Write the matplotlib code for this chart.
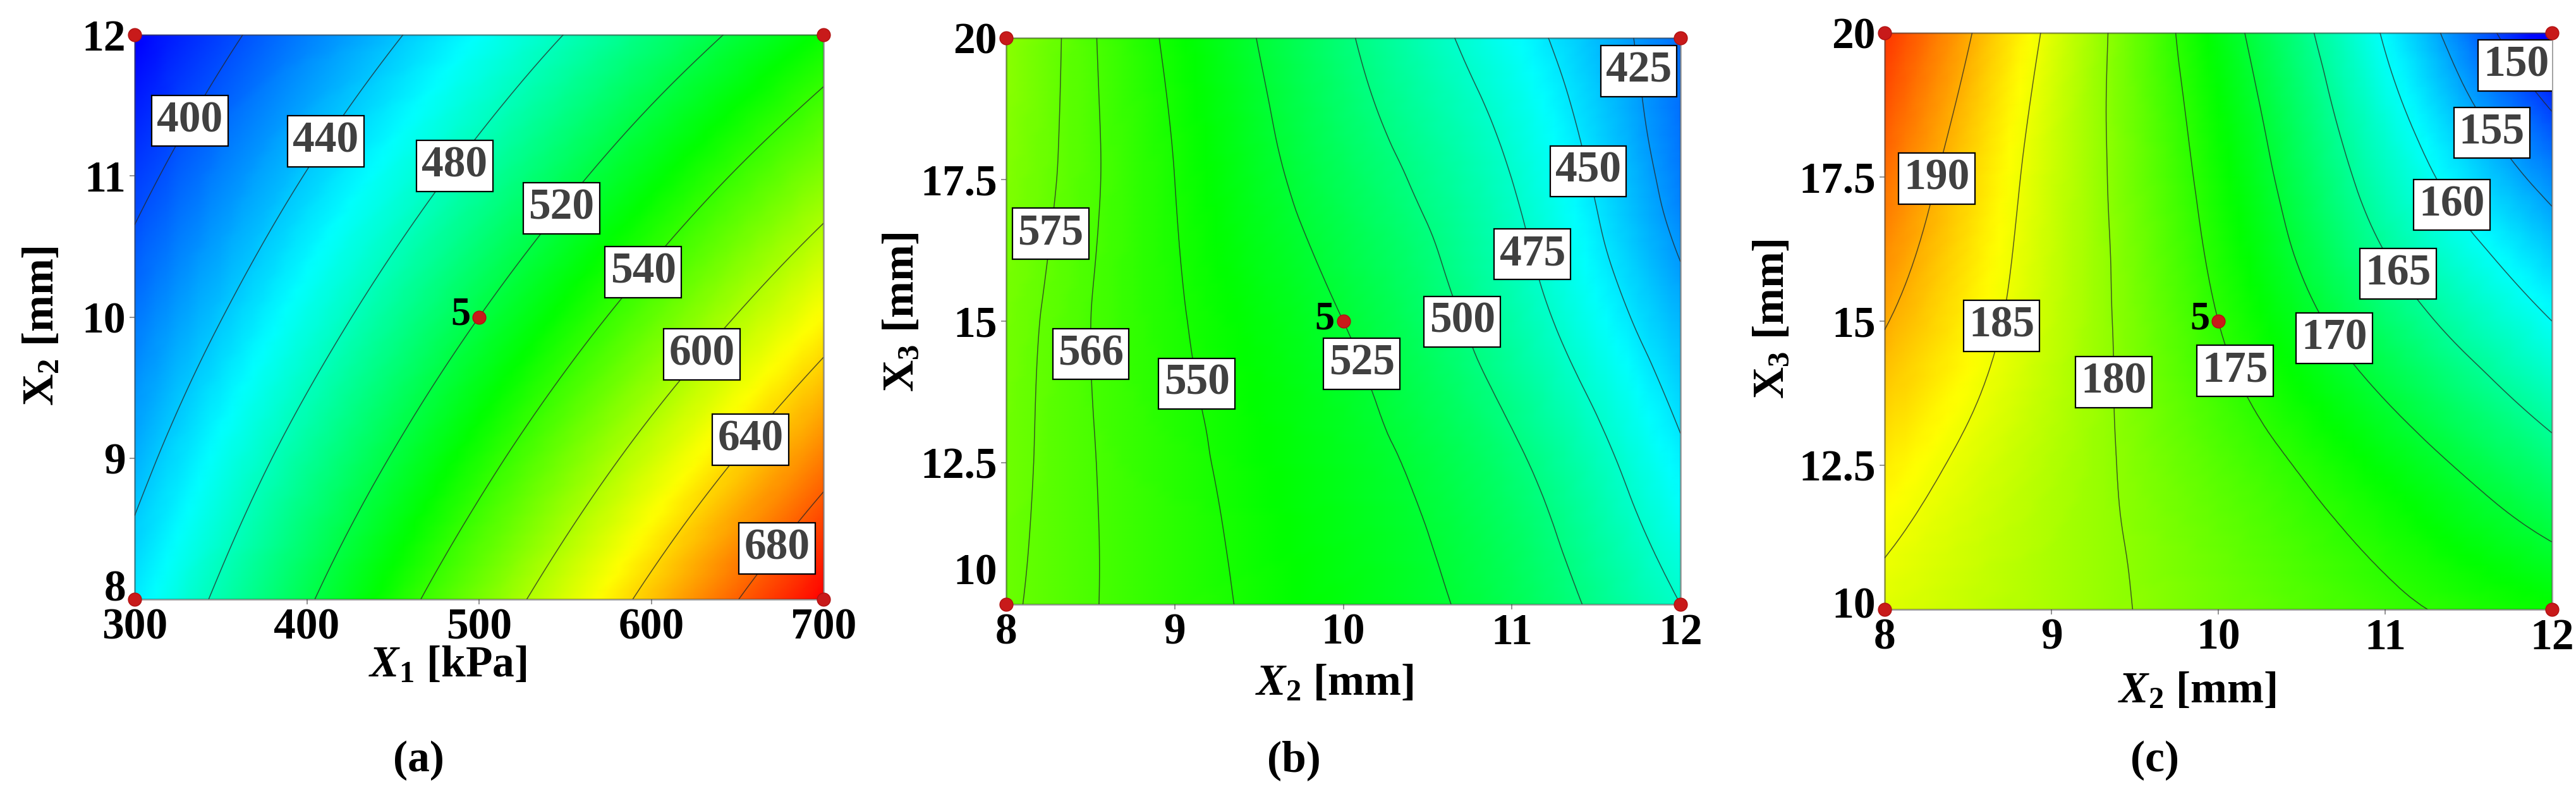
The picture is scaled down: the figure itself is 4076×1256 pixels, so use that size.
import numpy as np
import matplotlib
matplotlib.use('Agg')
import matplotlib.pyplot as plt
import matplotlib.tri as mtri
import matplotlib.transforms as mtrans
from matplotlib.colors import LinearSegmentedColormap

plt.rcParams['font.family'] = 'Liberation Serif'
plt.rcParams['font.weight'] = 'bold'
plt.rcParams['mathtext.fontset'] = 'custom'
plt.rcParams['mathtext.rm'] = 'Liberation Serif:bold'
plt.rcParams['mathtext.it'] = 'Liberation Serif:italic:bold'
plt.rcParams['mathtext.bf'] = 'Liberation Serif:bold'

# ---- panel (a): X1 [kPa] x X2 [mm], response read at grid nodes ----
a_x = [300, 400, 500, 600, 700]
a_y = [8, 9, 10, 11, 12]
a_z = [[452, 517, 582, 647, 712],
       [432, 492, 551, 611, 670],
       [413, 466, 520, 574, 628],
       [393, 441, 489, 538, 586],
       [373, 416, 459, 502, 545]]
a_levels = [400, 440, 480, 520, 560, 600, 640, 680]
a_texts = ['400', '440', '480', '520', '540', '600', '640', '680']
a_runs_x = [300, 300, 700, 700, 500]
a_runs_y = [8, 12, 8, 12, 10]

# ---- panel (b): X2 [mm] x X3 [mm] ----
b_x = [8, 9, 10, 11, 12]
b_y = [10, 12.5, 15, 17.5, 20]
b_z = [[577, 557, 538, 515, 475],
       [579, 555, 533, 504, 454],
       [581, 552, 525, 487, 434],
       [585, 550, 513, 475, 415],
       [589, 546, 503, 460, 410]]
b_levels = [425, 450, 475, 500, 525, 550, 566, 575]
b_texts = ['425', '450', '475', '500', '525', '550', '566', '575']
b_runs_x = [8, 8, 12, 12, 10]
b_runs_y = [10, 20, 10, 20, 15]

# ---- panel (c): X2 [mm] x X3 [mm], second response ----
c_x = [8, 9, 10, 11, 12]
c_y = [10, 12.5, 15, 17.5, 20]
c_z = [[184.2, 181.4, 178.5, 175.7, 173.0],
       [186.8, 181.9, 177.1, 172.2, 166.5],
       [190.2, 182.8, 175.0, 167.2, 160.0],
       [193.2, 183.2, 173.5, 163.0, 153.6],
       [196.3, 184.2, 171.9, 159.6, 145.0]]
c_levels = [150, 155, 160, 165, 170, 175, 180, 185, 190]
c_texts = ['150', '155', '160', '165', '170', '175', '180', '185', '190']
c_runs_x = [8, 8, 12, 12, 10]
c_runs_y = [10, 20, 10, 20, 15]

# label placement (layout)
a_label_xy = [(335, 11.37), (413, 11.23), (485, 11.08), (548, 10.77),
              (596, 10.31), (628, 9.75), (656, 9.15), (672, 8.37)]
b_label_xy = [(11.74, 19.41), (11.58, 17.74), (11.17, 16.22), (10.63, 14.90),
              (9.92, 14.01), (9.14, 13.90), (8.54, 14.42), (8.28, 16.54)]
c_label_xy = [(11.73, 19.32), (11.61, 18.21), (11.37, 16.96), (11.06, 15.79),
              (10.66, 14.63), (10.03, 14.05), (9.38, 13.94), (8.68, 14.93),
              (8.30, 17.48)]

cmap = LinearSegmentedColormap.from_list(
    'rsm', ['#0000ff', '#00ffff', '#00ff00', '#ffff00', '#ff0000'])


def smooth_field(xs, ys, zs, subdiv=4):
    nx, ny = len(xs), len(ys)
    ii, jj = np.meshgrid(np.arange(nx, dtype=float), np.arange(ny, dtype=float))
    tris = []
    for j in range(ny - 1):
        for i in range(nx - 1):
            k = j * nx + i
            tris.append([k, k + 1, k + nx + 1])
            tris.append([k, k + nx + 1, k + nx])
    tri = mtri.Triangulation(ii.ravel(), jj.ravel(), np.array(tris))
    tri_f, z_f = mtri.UniformTriRefiner(tri).refine_field(
        np.asarray(zs, float).ravel(), subdiv=subdiv)
    xf = np.interp(tri_f.x, np.arange(nx), xs)
    yf = np.interp(tri_f.y, np.arange(ny), ys)
    return mtri.Triangulation(xf, yf, tri_f.triangles), z_f


def panel(ax, xs, ys, zs, levels, texts, label_xy, vmin, vmax,
          runs_x, runs_y, xticks, yticks, xlabel, ylabel, xl_pos, yl_pos,
          low_tick_lift):
    tri_f, z_f = smooth_field(xs, ys, zs)
    ax.tripcolor(tri_f, z_f, shading='gouraud', cmap=cmap,
                 vmin=vmin, vmax=vmax, rasterized=True)
    ax.set_xlim(xs[0], xs[-1])
    ax.set_ylim(ys[0], ys[-1])
    cs = ax.tricontour(tri_f, z_f, levels=levels, colors='#262626',
                       linewidths=1.1, alpha=0.75)
    lbls = ax.clabel(cs, levels, inline=False, fmt=dict(zip(levels, texts)),
                     manual=label_xy, fontsize=50, colors='black')
    for t in lbls:
        t.set_rotation(0)
        t.set_fontweight('bold')
        t.set_zorder(6)
        t.set_bbox(dict(boxstyle='square,pad=0.12', facecolor='white',
                        edgecolor='black', linewidth=1.6))
    ax.plot(runs_x, runs_y, 'o', color='#c81a1a', ms=15, mec='#b01010',
            clip_on=False, zorder=7)
    ax.annotate('5', xy=(runs_x[-1], runs_y[-1]), xytext=(-10, 2),
                textcoords='offset points', ha='right', va='center',
                fontsize=45, fontweight='bold', zorder=7)
    ax.set_xticks(xticks)
    ax.set_yticks(yticks)
    ax.set_xticklabels([f'{v:g}' for v in xticks])
    ax.set_yticklabels([f'{v:g}' for v in yticks])
    ax.tick_params(direction='out', length=6, width=1.2, color='#808080',
                   labelsize=50, pad=4)
    # the lowest y tick label sits a little above its tick, as in the source figure
    low = ax.yaxis.get_major_ticks()[0].label1
    low.set_transform(low.get_transform() + mtrans.ScaledTranslation(
        0, low_tick_lift / 72, ax.figure.dpi_scale_trans))
    for s in ax.spines.values():
        s.set_color((0.25, 0.25, 0.25, 0.5))
        s.set_linewidth(2)
    ax.set_xlabel(xlabel, fontsize=50, fontweight='bold')
    ax.set_ylabel(ylabel, fontsize=50, fontweight='bold')
    ax.xaxis.set_label_coords(*xl_pos)
    ax.xaxis.label.set_va('center')
    ax.yaxis.set_label_coords(*yl_pos)
    ax.yaxis.label.set_va('center')


fig = plt.figure(figsize=(40.76, 12.56), dpi=100)
ax_a = fig.add_axes([0.05226, 0.24522, 0.26742, 0.71099])
ax_b = fig.add_axes([0.39058, 0.23885, 0.26178, 0.71338])
ax_c = fig.add_axes([0.73160, 0.23248, 0.25908, 0.72611])

panel(ax_a, a_x, a_y, a_z, a_levels, a_texts, a_label_xy, 373, 712,
      a_runs_x, a_runs_y, [300, 400, 500, 600, 700], [8, 9, 10, 11, 12],
      r'$X_1$ [kPa]', r'$\mathrm{X}_2$ [mm]', (0.454, -0.118), (-0.134, 0.484),
      16)
panel(ax_b, b_x, b_y, b_z, b_levels, b_texts, b_label_xy, 373, 712,
      b_runs_x, b_runs_y, [8, 9, 10, 11, 12], [10, 12.5, 15, 17.5, 20],
      r'$X_2$ [mm]', r'$\mathrm{X}_3$ [mm]', (0.487, -0.141), (-0.154, 0.516),
      40)
panel(ax_c, c_x, c_y, c_z, c_levels, c_texts, c_label_xy, 146.5, 199,
      c_runs_x, c_runs_y, [8, 9, 10, 11, 12], [10, 12.5, 15, 17.5, 20],
      r'$X_2$ [mm]', r'$\mathrm{X}_3$ [mm]', (0.468, -0.143), (-0.168, 0.504),
      8)

for xf, letter in [(0.1624, '(a)'), (0.5022, '(b)'), (0.8366, '(c)')]:
    fig.text(xf, 0.042, letter, ha='center', va='center',
             fontsize=50, fontweight='bold')

fig.savefig('out.png', dpi=100)
